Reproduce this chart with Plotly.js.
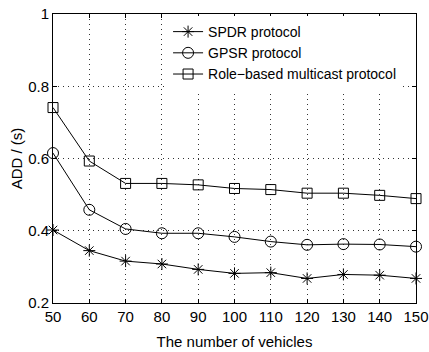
<!DOCTYPE html>
<html>
<head>
<meta charset="utf-8">
<script src="https://cdn.plot.ly/plotly-3.0.1.min.js"></script>
<style>html,body{margin:0;padding:0;background:#fff;}#chart{width:429px;height:352px;}</style>
</head>
<body>
<div id="chart"></div>
<script>
const vehicles = [50, 60, 70, 80, 90, 100, 110, 120, 130, 140, 150];
const spdr = [0.402, 0.345, 0.316, 0.308, 0.293, 0.282, 0.284, 0.268, 0.279, 0.277, 0.268];
const gpsr = [0.615, 0.458, 0.405, 0.393, 0.393, 0.383, 0.370, 0.361, 0.363, 0.362, 0.356];
const roleBased = [0.741, 0.593, 0.531, 0.531, 0.527, 0.517, 0.514, 0.504, 0.504, 0.498, 0.489];
const seriesNames = ['SPDR protocol', 'GPSR protocol', 'Role\u2212based multicast protocol'];
const yTickVals = [0.2, 0.4, 0.6, 0.8, 1];
const yTickText = ['0.2', '0.4', '0.6', '0.8', '1'];
const xTickVals = vehicles;

const font = 'Liberation Sans, Arial, sans-serif';
function trace(y, name, symbol, size) {
  return {
    x: vehicles, y: y, name: name, type: 'scatter', mode: 'lines+markers',
    line: {color: '#000', width: 1},
    marker: {symbol: symbol, size: size, color: '#000', line: {color: '#000', width: 1}},
    cliponaxis: false
  };
}
const data = [
  trace(spdr, seriesNames[0], 'asterisk-open', 10),
  trace(gpsr, seriesNames[1], 'circle-open', 11),
  trace(roleBased, seriesNames[2], 'square-open', 10)
];
const axisCommon = {
  showline: true, linecolor: '#000', linewidth: 1, mirror: 'ticks',
  ticks: 'inside', ticklen: 4, tickcolor: '#000',
  showgrid: true, gridcolor: '#333', gridwidth: 1, griddash: '1px,4px',
  zeroline: false, tickfont: {family: font, size: 15, color: '#000'}
};
const layout = {
  width: 429, height: 352,
  margin: {l: 53, r: 13, t: 14, b: 49},
  paper_bgcolor: '#fff', plot_bgcolor: '#fff',
  showlegend: true,
  legend: {x: 0.317, y: 0.993, xanchor: 'left', yanchor: 'top', bgcolor: '#fff', borderwidth: 0,
           font: {family: font, size: 14, color: '#000'}, tracegroupgap: 0},
  xaxis: Object.assign({}, axisCommon, {range: [50, 150], tickvals: xTickVals,
    title: {text: 'The number of vehicles', font: {family: font, size: 15, color: '#000'}, standoff: 12}}),
  yaxis: Object.assign({}, axisCommon, {range: [0.2, 1], tickvals: yTickVals, ticktext: yTickText,
    title: {text: 'ADD / (s)', font: {family: font, size: 15, color: '#000'}, standoff: 1}}),
  annotations: [{text: '(a) ADD comparison', xref: 'paper', yref: 'paper', x: 0.51, y: 1.04,
    xanchor: 'center', yanchor: 'bottom', showarrow: false,
    font: {family: 'Liberation Serif, Times New Roman, serif', size: 19, color: '#000'}}]
};
Plotly.newPlot('chart', data, layout, {displayModeBar: false, staticPlot: true});
</script>
</body>
</html>
